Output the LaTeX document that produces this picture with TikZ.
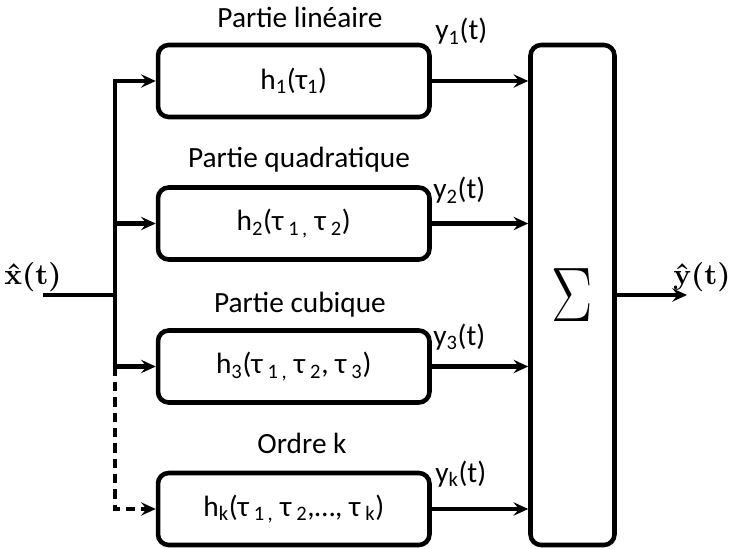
\documentclass[tikz,border=0pt]{standalone}
\usepackage{fix-cm}
\usepackage[no-math]{fontspec}
\setmainfont{Carlito}
\newfontfamily\lmr{lmroman10-regular.otf}[BoldFont=lmroman10-bold.otf]
\usepackage{tikz}
\usetikzlibrary{arrows.meta,positioning}
\usepackage{amsmath,amssymb}

\begin{document}
\begin{tikzpicture}[x=0.75pt,y=-0.75pt,
  font=\fontsize{22}{26}\selectfont,
  >={Stealth[length=11pt,width=10pt,inset=4pt]},
  wire/.style={line width=3.3pt},
  blk/.style={draw=black,line width=3.4pt,rounded corners=8pt,minimum width=203.6pt,minimum height=54pt,inner sep=0pt},
  sumblk/.style={draw=black,line width=3.4pt,rounded corners=8pt,minimum width=63pt,minimum height=375pt,inner sep=0pt},
  part/.style={anchor=base},
  ylab/.style={anchor=base west,inner sep=0pt},
  sig/.style={font=\lmr\bfseries\fontsize{22}{26}\selectfont}]
% \draw[help lines] (0,0) grid (729,549);
\useasboundingbox (0,0) rectangle (729,549);
\node (h1) [blk] at (293.75,81) {h\textsubscript{1}(τ\textsubscript{1})};
\node (h2) [blk] at (293.75,223.5) {h\textsubscript{2}(τ\,\textsubscript{1\,,} τ\,\textsubscript{2})};
\node (h3) [blk] at (293.75,366.5) {h\textsubscript{3}(τ\,\textsubscript{1\,,} τ\,\textsubscript{2}, τ\,\textsubscript{3})};
\node (hk) [blk] at (293.75,509) {h\textsubscript{k}(τ\,\textsubscript{1\,,} τ\,\textsubscript{2},…, τ\,\textsubscript{k})};
\node (sum) [sumblk] at (572.5,295) {\fontsize{58}{60}\selectfont\scalebox{0.8}[1]{$\Sigma$}};
%
\node (p1) [part] at (300,28) {Partie linéaire};
\node (p2) [part] at (299,168) {Partie quadratique};
\node (p3) [part] at (300,312) {Partie cubique};
\node (pk) [part] at (302,453) {Ordre k};
%
\node (y1) [ylab] at (435,40) {y\textsubscript{1}(t)};
\node (y2) [ylab] at (433,199) {y\textsubscript{2}(t)};
\node (y3) [ylab] at (433,345) {y\textsubscript{3}(t)};
\node (yk) [ylab] at (435,482) {y\textsubscript{k}(t)};
%
\node (xin) [sig] at (33,277) {x^^^^0302(t)};
\node (yout) [sig] at (702,277) {y^^^^0302(t)};
%
\coordinate (in) at (43,295);
\coordinate (j) at (115,295);
\coordinate (out) at (687,295);
%
\draw[wire] (in) -- (j);
\draw[wire,<->] (h1.west) -| (j |- h3.west) -- (h3.west);
\path[wire,->] (j |- h2.west) edge (h2.west);
\draw[wire,->,dash pattern=on 7pt off 4.5pt] (j |- h3.west) |- (hk.west);
%
\path[wire,->] (h1.east) edge (h1.east -| sum.west);
\path[wire,->] (h2.east) edge (h2.east -| sum.west);
\path[wire,->] (h3.east) edge (h3.east -| sum.west);
\path[wire,->] (hk.east) edge (hk.east -| sum.west);
\path[wire,->] (sum.east) edge (out);
\end{tikzpicture}
\end{document}
